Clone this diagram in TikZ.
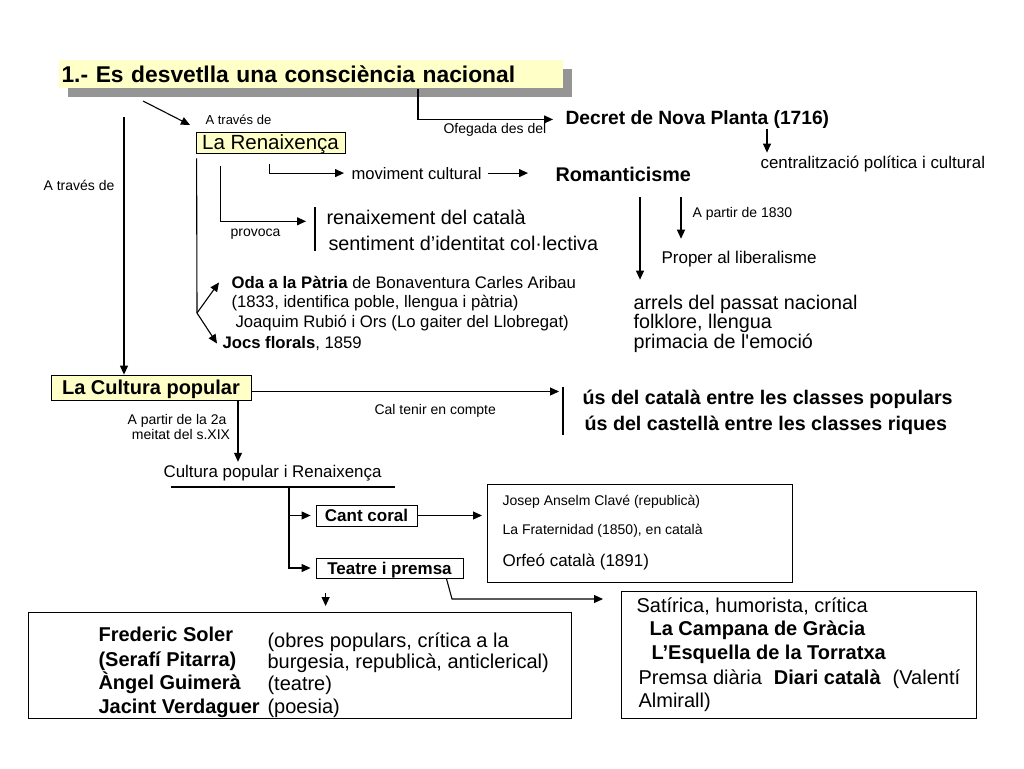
\documentclass[tikz,border=0pt]{standalone}
\usepackage{fontspec}
\setmainfont{Liberation Sans}
\usetikzlibrary{arrows.meta}
\usetikzlibrary{shadows}
\definecolor{boxyellow}{HTML}{FFFFC8}
\definecolor{shadowgray}{HTML}{959595}
\newcommand{\pxfont}[1]{\fontsize{#1}{#1}\selectfont}

\begin{document}
\begin{tikzpicture}[x=1pt,y=-1pt,line width=1.1pt,
		arr/.style={-{Triangle[length=9pt,width=8pt]}},
		lbl/.style={anchor=base west,inner sep=0pt},
		ybox/.style={fill=boxyellow,draw,line width=.8pt,inner sep=0pt,text depth=0pt},
		wbox/.style={draw,line width=.8pt,inner sep=0pt,text depth=0pt}]
	\useasboundingbox (0,0) rectangle (1024,768);

	\node[fill=boxyellow,drop shadow={shadow xshift=9pt,shadow yshift=-9pt,fill=shadowgray,opacity=1},
		anchor=west,text width=498pt,inner xsep=3pt,inner ysep=0pt,minimum height=28pt,
		text height=16.4pt,text depth=0pt,font=\bfseries\pxfont{22.8}] (title) at (58,74)
		{1.- Es desvetlla una consciència nacional};

	\node[lbl,font=\pxfont{13}] (atraves1) at (205,124) {A través de};
	\node[ybox,minimum width=149pt,minimum height=21pt,text height=14.8pt,font=\pxfont{20.5}] (renaixenca) at (270.5,142.5) {La Renaixença};
	\node[lbl,font=\pxfont{14}] (ofegada) at (443,133.6) {Ofegada des del};
	\node[lbl,font=\bfseries\pxfont{19.2}] (decret) at (565,124.4) {Decret de Nova Planta (1716)};
	\node[lbl,font=\pxfont{16.9}] (centr) at (760,168.6) {centralització política i cultural};
	\node[lbl,font=\pxfont{16.6}] (moviment) at (351,179) {moviment cultural};
	\node[lbl,font=\bfseries\pxfont{19.8}] (romant) at (555,181.5) {Romanticisme};
	\node[lbl,font=\pxfont{14}] (atraves2) at (43,190.6) {A través de};
	\node[lbl,font=\pxfont{14}] (apartir) at (692,217.6) {A partir de 1830};
	\node[lbl,font=\pxfont{14}] (provoca) at (230,236.6) {provoca};
	\node[lbl,font=\pxfont{19.8}] (renaix1) at (326,224.5) {renaixement del català};
	\node[lbl,font=\pxfont{19.8}] (renaix2) at (328,250.5) {sentiment d’identitat col·lectiva};
	\node[lbl,font=\pxfont{17}] (proper) at (661,263.6) {Proper al liberalisme};
	\node[lbl,font=\pxfont{16.7}] (oda) at (231,288.5) {\textbf{Oda a la Pàtria} de Bonaventura Carles Aribau};
	\node[lbl,font=\pxfont{16.7}] (odaany) at (231,307.5) {(1833, identifica poble, llengua i pàtria)};
	\node[lbl,font=\pxfont{16.7}] (rubio) at (235,327.5) {Joaquim Rubió i Ors (Lo gaiter del Llobregat)};
	\node[lbl,font=\pxfont{16.7}] (jocs) at (222,348.5) {\textbf{Jocs florals}, 1859};
	\node[lbl,font=\pxfont{19.75}] (arrels1) at (633,309.5) {arrels del passat nacional};
	\node[lbl,font=\pxfont{19.75}] (arrels2) at (633,328.5) {folklore, llengua};
	\node[lbl,font=\pxfont{19.75}] (arrels3) at (633,348.5) {primacia de l\textquotesingle emoció};

	\node[ybox,minimum width=200pt,minimum height=25pt,text height=14.4pt,font=\bfseries\pxfont{20}] (cultura) at (151,387.5) {La Cultura popular};
	\node[lbl,font=\pxfont{14}] (caltenir) at (374,414.6) {Cal tenir en compte};
	\node[lbl,font=\bfseries\pxfont{19.7}] (usos1) at (582,404.5) {ús del català entre les classes populars};
	\node[lbl,font=\bfseries\pxfont{19.7}] (usos2) at (584,430.5) {ús del castellà entre les classes riques};
	\node[anchor=base,inner sep=0pt,font=\pxfont{14}] (meitat1) at (177,424.6) {A partir de la 2a};
	\node[anchor=base,inner sep=0pt,font=\pxfont{14}] (meitat2) at (181,439.6) {meitat del s.XIX};
	\node[lbl,font=\pxfont{16.9}] (cpr) at (163,477.6) {Cultura popular i Renaixença};

	\node[wbox,minimum width=101pt,minimum height=21pt,text height=12.2pt,font=\bfseries\pxfont{17}] (cant) at (366.5,515.5) {Cant coral};
	\node[wbox,minimum width=147pt,minimum height=20pt,text height=12.2pt,font=\bfseries\pxfont{17}] (teatre) at (389.5,568) {Teatre i premsa};

	\node[wbox,minimum width=305pt,minimum height=98pt,anchor=north west] (clave) at (487,484) {};
	\node[lbl,font=\pxfont{14}] (clave1) at (502,505.6) {Josep Anselm Clavé (republicà)};
	\node[lbl,font=\pxfont{14}] (clave2) at (502,534.6) {La Fraternidad (1850), en català};
	\node[lbl,font=\pxfont{17}] (clave3) at (502,566.6) {Orfeó català (1891)};

	\node[wbox,line width=1pt,minimum width=543pt,minimum height=106pt,anchor=north west] (fred) at (28,612) {};
	\node[lbl,font=\bfseries\pxfont{20}] (soler) at (98,641.2) {Frederic Soler};
	\node[lbl,font=\bfseries\pxfont{20}] (pitarra) at (98,666.4) {(Serafí Pitarra)};
	\node[lbl,font=\bfseries\pxfont{20}] (guimera) at (98,689.3) {Àngel Guimerà};
	\node[lbl,font=\bfseries\pxfont{20}] (verdaguer) at (98,713.6) {Jacint Verdaguer};
	\node[lbl,font=\pxfont{20}] (obres1) at (267,647.9) {(obres populars, crítica a la};
	\node[lbl,font=\pxfont{20}] (obres2) at (267,668.1) {burgesia, republicà, anticlerical)};
	\node[lbl,font=\pxfont{20}] (teatrenota) at (267,690) {(teatre)};
	\node[lbl,font=\pxfont{20}] (poesia) at (267,713.6) {(poesia)};

	\node[wbox,line width=1pt,minimum width=355pt,minimum height=127pt,anchor=north west] (satir) at (621,591) {};
	\node[lbl,font=\pxfont{20}] (satir1) at (636,612.6) {Satírica, humorista, crítica};
	\node[lbl,font=\bfseries\pxfont{20}] (campana) at (649,635.6) {La Campana de Gràcia};
	\node[lbl,font=\bfseries\pxfont{20}] (esquella) at (651,659.6) {L’Esquella de la Torratxa};
	\node[lbl,font=\pxfont{20}] (premsa) at (638,684.6) {Premsa diària\hspace{12pt}\textbf{Diari català}\hspace{12pt}(Valentí};
	\node[lbl,font=\pxfont{20}] (almirall) at (638,707.6) {Almirall)};

	% connectors
	\coordinate (tA) at (143,101);
	\coordinate (tB) at (190,125);
	\draw[arr] (tA) -- (tB);
	\draw[arr,shorten >=12pt] ([xshift=360pt]title.south west) |- (decret.west);
	\draw[arr,shorten >=3pt] ([xshift=202pt]decret.south west) -- ([xshift=7pt]centr.north west);

	\coordinate (branch) at (197,313);
	\draw ([shift={(1pt,-5pt)}]renaixenca.south west) -- (branch);
	\draw[arr] (branch) -- ([xshift=-12pt]oda.west);
	\draw[arr] (branch) -- ([xshift=-5pt]jocs.west);
	\draw[arr,shorten <=13pt,shorten >=20pt] ([xshift=25pt]renaixenca.south west) |- ([yshift=-4pt]renaix1.west);
	\draw ([xshift=-11pt,yshift=2pt]renaix1.north west) -- ([xshift=-11pt]renaix1.north west |- renaix2.south);
	\draw[arr,shorten <=11pt,shorten >=7pt] ([xshift=74pt]renaixenca.south west) |- (moviment.west);
	\draw[arr,shorten <=6pt,shorten >=27pt] (moviment.east) -- (moviment.east -| romant.west);
	\draw[arr,shorten <=15pt,shorten >=15pt] ([xshift=85pt]romant.south west) -- ([xshift=85pt]romant.south west |- arrels1.north);
	\draw[arr,shorten <=15pt,shorten >=12pt] ([xshift=126pt]romant.south west) -- ([xshift=126pt]romant.south west |- proper.north);

	\coordinate (lv) at (124,117);
	\draw[arr] (lv) -- (lv |- cultura.north);
	\draw[arr,shorten >=23pt] ([yshift=-4pt]cultura.east) -- ([yshift=-4pt]cultura.east -| usos1.west);
	\draw ([xshift=-19pt,yshift=3pt]usos1.north west) -- ([xshift=-19pt]usos1.north west |- usos2.south);
	\draw[arr,shorten >=3pt] ([xshift=87pt]cultura.south) -- ([xshift=87pt]cultura.south |- cpr.north);

	\coordinate (ulA) at (171,487);
	\coordinate (ulB) at (395,487);
	\coordinate (split) at (289,487);
	\draw (ulA) -- (ulB);
	\draw[arr,shorten >=5pt] (split) |- (cant.west);
	\draw[arr,shorten >=5pt] (split) |- (teatre.west);
	\draw[arr,shorten >=5pt] (cant.east) -- (cant.east -| clave.west);
	\draw[arr,shorten <=15pt,shorten >=6pt] ([xshift=10pt]teatre.south west) -- ([xshift=10pt]teatre.south west |- fred.north);
	\coordinate (tbend) at (452,599);
	\draw[arr,shorten >=18pt] ([xshift=-17pt]teatre.south east) -- (tbend) -- (tbend -| satir.west);
\end{tikzpicture}
\end{document}
